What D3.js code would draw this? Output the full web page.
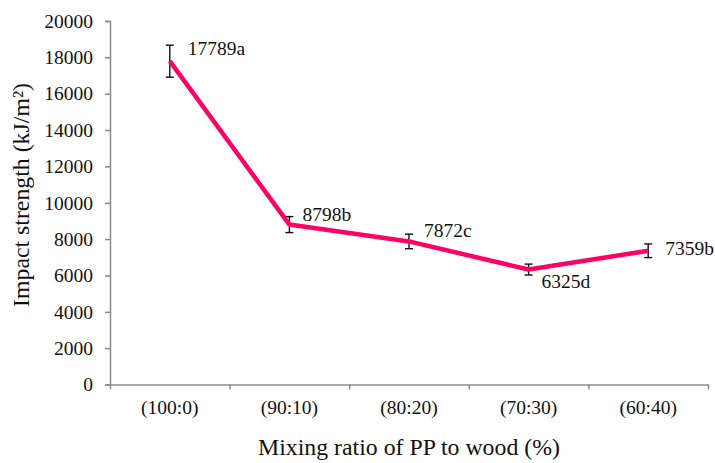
<!DOCTYPE html>
<html>
<head>
<meta charset="utf-8">
<script src="https://cdn.jsdelivr.net/npm/d3@7"></script>
<style>
  html, body { margin: 0; padding: 0; background: #fff; }
  svg { display: block; }
  text { font-family: "Liberation Serif", "Times New Roman", serif; fill: #111; }
</style>
</head>
<body>
<svg id="chart" width="715" height="463"></svg>
<script>
// ---- data ----
const categories = ["(100:0)", "(90:10)", "(80:20)", "(70:30)", "(60:40)"];
const impactStrength = [17789, 8798, 7872, 6325, 7359];
const errorValues = [880, 440, 400, 300, 375];
const significance = ["a", "b", "c", "d", "b"];
const yTicks = [0, 2000, 4000, 6000, 8000, 10000, 12000, 14000, 16000, 18000, 20000];
const xTitle = "Mixing ratio of PP to wood (%)";
const yTitle = "Impact strength (kJ/m²)";

// label offsets (style, not data)
const labelOffsets = [[18, -6], [13, -4], [15, -4], [13, 18], [17, 4]];

// ---- layout ----
const svg = d3.select("#chart");
const plotLeft = 110, plotRight = 708, plotTop = 21, plotBottom = 384.5;
const axisColor = "#8c8c8c";

const x = d3.scaleBand().domain(categories).range([plotLeft, plotRight]).padding(0);
const xEdges = d3.scaleLinear().domain([0, categories.length]).range([plotLeft, plotRight]);
const y = d3.scaleLinear().domain([0, 20000]).range([plotBottom, plotTop]);

// y axis
const yAxis = svg.append("g")
  .attr("transform", `translate(${plotLeft},0)`)
  .call(d3.axisLeft(y).tickValues(yTicks).tickSize(5).tickPadding(12).tickFormat(d3.format("d")));
yAxis.select(".domain").attr("stroke", axisColor).attr("stroke-width", 1.5);
yAxis.selectAll(".tick line").attr("stroke", axisColor).attr("stroke-width", 1.5);
yAxis.selectAll("text").style("font-size", "19.5px").style("font-family", "Liberation Serif").attr("fill", "#111");

// x axis: boundary ticks
const xTickAxis = svg.append("g")
  .attr("transform", `translate(0,${plotBottom})`)
  .call(d3.axisBottom(xEdges).tickValues(d3.range(categories.length + 1)).tickSize(5).tickSizeOuter(0).tickFormat(""));
xTickAxis.select(".domain").attr("stroke", axisColor).attr("stroke-width", 1.5);
xTickAxis.selectAll(".tick line").attr("stroke", axisColor).attr("stroke-width", 1.5);

// x axis: category labels
const xLabelAxis = svg.append("g")
  .attr("transform", `translate(0,${plotBottom})`)
  .call(d3.axisBottom(x).tickSize(0).tickPadding(15.7));
xLabelAxis.select(".domain").remove();
xLabelAxis.selectAll("text").style("font-size", "19.5px").style("font-family", "Liberation Serif").attr("fill", "#111");

// error bars
const cx = d => x(d) + x.bandwidth() / 2;
const eb = svg.append("g").attr("stroke", "#111").attr("stroke-width", 1.4).attr("fill", "none");
categories.forEach((c, i) => {
  const xc = cx(c);
  const y1 = y(impactStrength[i] + errorValues[i]);
  const y0 = y(impactStrength[i] - errorValues[i]);
  eb.append("line").attr("x1", xc).attr("x2", xc).attr("y1", y1).attr("y2", y0);
  eb.append("line").attr("x1", xc - 4).attr("x2", xc + 4).attr("y1", y1).attr("y2", y1);
  eb.append("line").attr("x1", xc - 4).attr("x2", xc + 4).attr("y1", y0).attr("y2", y0);
});

// line
const line = d3.line().x((d, i) => cx(categories[i])).y(d => y(d));
svg.append("path")
  .datum(impactStrength)
  .attr("d", line)
  .attr("fill", "none")
  .attr("stroke", "#ff0066")
  .attr("stroke-width", 4.5)
  .attr("stroke-linejoin", "round")
  .attr("stroke-linecap", "butt");

// data labels
svg.append("g").selectAll("text")
  .data(impactStrength)
  .join("text")
  .attr("x", (d, i) => cx(categories[i]) + labelOffsets[i][0])
  .attr("y", (d, i) => y(d) + labelOffsets[i][1])
  .style("font-size", "19.5px")
  .text((d, i) => d + significance[i]);

// axis titles
svg.append("text")
  .attr("x", (plotLeft + plotRight) / 2)
  .attr("y", 455)
  .attr("text-anchor", "middle")
  .style("font-size", "23.8px")
  .text(xTitle);

svg.append("text")
  .attr("transform", "translate(28.5,195) rotate(-90)")
  .attr("text-anchor", "middle")
  .style("font-size", "23.8px")
  .text(yTitle);
</script>
</body>
</html>
